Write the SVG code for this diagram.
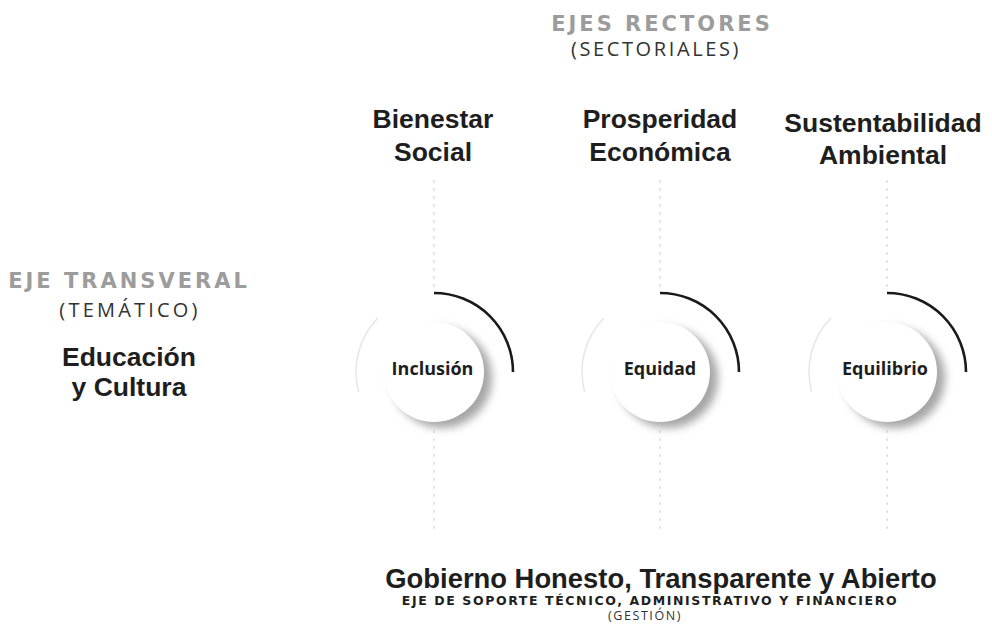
<svg xmlns="http://www.w3.org/2000/svg" width="992" height="624" viewBox="0 0 992 624">
<defs>
<style>
.h{font-family:"Liberation Sans","DejaVu Sans",sans-serif;font-weight:bold;fill:#1e1e1e;text-anchor:middle;font-size:26.5px}
.g{font-family:"DejaVu Sans","Liberation Sans",sans-serif;font-weight:bold;fill:#9c9c9c;text-anchor:middle;font-size:21px;letter-spacing:3px}
.l{font-family:"Open Sans","Liberation Sans",sans-serif;font-weight:400;fill:#333;text-anchor:middle;font-size:20px;letter-spacing:2.6px}
.lbl{font-family:"Open Sans","Liberation Sans",sans-serif;font-weight:bold;fill:#1e1e1e;text-anchor:middle;font-size:18px}
.axis{stroke:#d6d6d6;stroke-width:1.2;stroke-dasharray:3 5;fill:none}
.outer{stroke:#e6e6e6;stroke-width:1.5;fill:none}
.arc{stroke:#1a1a1a;stroke-width:2.6;fill:none;stroke-linecap:butt}
.inner{fill:#fff}
</style>
<filter id="blur" x="-30%" y="-30%" width="160%" height="160%">
<feGaussianBlur stdDeviation="4"/>
</filter>
<g id="circ">
<circle cx="0" cy="0" r="78" class="outer" stroke-dasharray="80 420" transform="rotate(165)"/>
<circle cx="8" cy="6" r="50" fill="#a6a6a6" filter="url(#blur)"/>
<circle cx="0" cy="0" r="50" class="inner"/>
<path d="M0,-79 A79,79 0 0 1 79,0" class="arc"/>
</g>
</defs>
<rect width="992" height="624" fill="#fff"/>
<g id="connectors">
<line x1="434" y1="180" x2="434" y2="292" class="axis"/>
<line x1="434" y1="430" x2="434" y2="530" class="axis"/>
<line x1="660" y1="180" x2="660" y2="292" class="axis"/>
<line x1="660" y1="430" x2="660" y2="530" class="axis"/>
<line x1="887" y1="180" x2="887" y2="292" class="axis"/>
<line x1="887" y1="430" x2="887" y2="530" class="axis"/>
</g>
<g id="header">
<text x="662" y="31" class="g">EJES RECTORES</text>
<text x="656" y="56" class="l">(SECTORIALES)</text>
</g>
<g id="bienestar">
<text x="433" y="128" class="h">Bienestar</text>
<text x="433" y="161" class="h">Social</text>
</g>
<g id="prosperidad">
<text x="660" y="128" class="h">Prosperidad</text>
<text x="660" y="161" class="h">Económica</text>
</g>
<g id="sustentabilidad">
<text x="883" y="132" class="h">Sustentabilidad</text>
<text x="883" y="164" class="h">Ambiental</text>
</g>
<g id="transversal">
<text x="129" y="288" class="g">EJE TRANSVERAL</text>
<text x="130" y="317" class="l" style="letter-spacing:3.2px">(TEMÁTICO)</text>
<text x="129" y="366" class="h">Educación</text>
<text x="129" y="396" class="h">y Cultura</text>
</g>
<g id="inclusion">
<use href="#circ" x="434" y="372"/>
<text x="432.5" y="375" class="lbl">Inclusión</text>
</g>
<g id="equidad">
<use href="#circ" x="660" y="372"/>
<text x="660" y="375" class="lbl">Equidad</text>
</g>
<g id="equilibrio">
<use href="#circ" x="887" y="372"/>
<text x="885" y="375" class="lbl">Equilibrio</text>
</g>
<g id="gobierno">
<text x="661" y="588" class="h" style="font-size:27.4px">Gobierno Honesto, Transparente y Abierto</text>
<text x="650" y="605" class="g" style="font-size:12.5px;letter-spacing:1.6px;fill:#1e1e1e">EJE DE SOPORTE TÉCNICO, ADMINISTRATIVO Y FINANCIERO</text>
<text x="645" y="620" class="l" style="font-size:12.5px;letter-spacing:1.6px">(GESTIÓN)</text>
</g>
</svg>
